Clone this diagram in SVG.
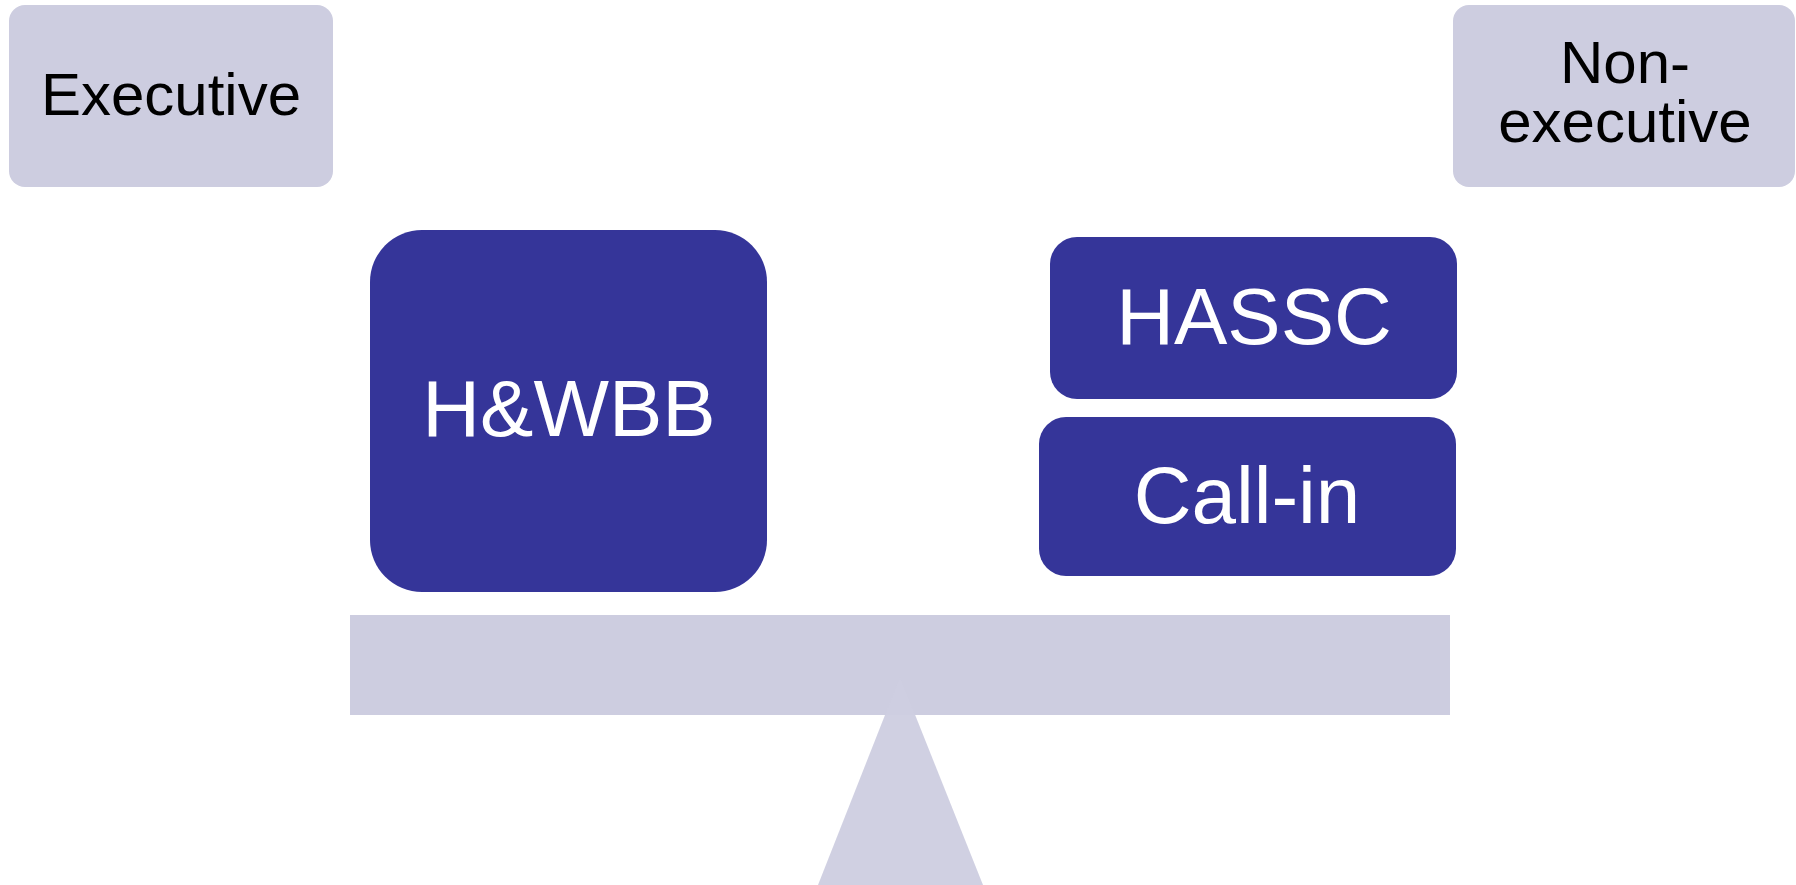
<svg xmlns="http://www.w3.org/2000/svg" width="1796" height="885" viewBox="0 0 1796 885">
<style>
.light{fill:#cdcde0}
.dark{fill:#353599}
.tl{font-family:"Liberation Sans",Arial,sans-serif;font-size:60px;fill:#000;text-anchor:middle}
.td{font-family:"Liberation Sans",Arial,sans-serif;font-size:80px;fill:#fff;text-anchor:middle}
</style>
<rect width="1796" height="885" fill="#fff"/>
<g id="scale">
<rect class="light" x="350" y="615" width="1100" height="100"/>
<polygon class="light" points="900,677 818,885 983,885" fill-opacity="0.95"/>
</g>
<g id="executive">
<rect class="light" x="9" y="5" width="324" height="182" rx="16"/>
<text class="tl" x="171" y="115">Executive</text>
</g>
<g id="non-executive">
<rect class="light" x="1453" y="5" width="342" height="182" rx="16"/>
<text class="tl" x="1625" y="83">Non-<tspan x="1625" y="142">executive</tspan></text>
</g>
<g id="hwbb">
<rect class="dark" x="370" y="230" width="397" height="362" rx="52"/>
<text class="td" x="569" y="436">H&amp;WBB</text>
</g>
<g id="hassc">
<rect class="dark" x="1050" y="237" width="407" height="162" rx="27"/>
<text class="td" x="1254" y="344">HASSC</text>
</g>
<g id="callin">
<rect class="dark" x="1039" y="417" width="417" height="159" rx="27"/>
<text class="td" x="1247" y="523">Call-in</text>
</g>
<g id="connectors"/>
</svg>
